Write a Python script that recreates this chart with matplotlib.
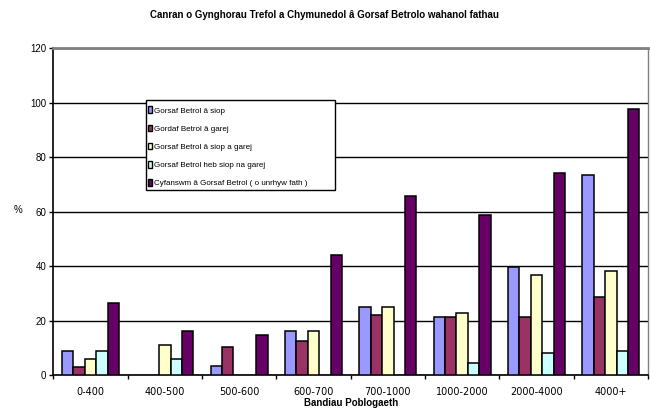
import numpy as np
import matplotlib.pyplot as plt
from matplotlib.patches import Patch, Rectangle

plt.rcParams['font.family'] = ['Liberation Sans', 'DejaVu Sans']

# Population bands and percentages for each type of petrol station
bands = ['0-400', '400-500', '500-600', '600-700', '700-1000',
         '1000-2000', '2000-4000', '4000+']
series_names = ['Gorsaf Betrol â siop',
                'Gordaf Betrol â garej',
                'Gorsaf Betrol â siop a garej',
                'Gorsaf Betrol heb siop na garej',
                'Cyfanswm â Gorsaf Betrol ( o unrhyw fath )']
shop = [9.0, 0, 3.6, 16.3, 25.1, 21.6, 39.8, 73.4]
garage = [3.2, 0, 10.4, 12.8, 22.2, 21.6, 21.6, 28.8]
shop_garage = [6.1, 11.0, 0, 16.3, 25.1, 22.9, 36.8, 38.4]
neither = [9.0, 6.0, 0, 0, 0, 4.6, 8.3, 8.8]
total = [26.6, 16.3, 14.8, 44.3, 65.6, 58.9, 74.1, 97.8]
colors = ['#9999FF', '#993366', '#FFFFCC', '#CCFFFF', '#660066']

values = [shop, garage, shop_garage, neither, total]

fig = plt.figure(figsize=(6.5, 4.09), dpi=100)
ax = fig.add_axes([0.082, 0.082, 0.915, 0.8005])

x = np.arange(len(bands))
width = 1 / 6.5
for i, (vals, col) in enumerate(zip(values, colors)):
    vals = np.array(vals)
    keep = vals > 0  # empty categories draw nothing
    offs = (i - 2) * width
    ax.bar(x[keep] + offs, vals[keep], width, color=col, edgecolor='black',
           linewidth=1.1, zorder=3)

ax.set_xlim(-0.5, len(bands) - 0.5)
ax.set_ylim(0, 120)
ax.set_yticks(np.arange(0, 121, 20))
ax.yaxis.grid(True, color='black', linewidth=1.0, zorder=0)
ax.set_axisbelow(True)

ax.set_xticks(x)
ax.set_xticklabels(bands, fontsize=7, family='DejaVu Sans')
ax.set_xticks(np.arange(-0.5, len(bands), 1), minor=True)
ax.tick_params(axis='x', which='major', length=0, pad=8)
ax.tick_params(axis='x', which='minor', length=3, direction='out', width=1)
ax.tick_params(axis='y', labelsize=7, length=3, width=1, pad=2)

for side in ['top', 'right']:
    ax.spines[side].set_color('#808080')
ax.spines['top'].set_linewidth(2)
ax.spines['right'].set_linewidth(1)
ax.spines['left'].set_linewidth(1.2)
ax.spines['bottom'].set_linewidth(1.2)

ax.set_xlabel('Bandiau Poblogaeth', fontsize=7, fontweight='bold', labelpad=1)
ax.set_ylabel('%', fontsize=7, rotation=0)
ax.yaxis.set_label_coords(-0.06, 0.49)

fig.suptitle('Canran o Gynghorau Trefol a Chymunedol â Gorsaf Betrolo wahanol fathau',
             fontsize=7, fontweight='bold', y=0.975)

# legend box drawn separately so it can be wider than its text, as in Excel
box = Rectangle((0.156, 0.567), 0.318, 0.275, transform=ax.transAxes,
                facecolor='white', edgecolor='black', linewidth=1, zorder=4)
ax.add_patch(box)
handles = [Patch(facecolor=c, edgecolor='black', linewidth=1) for c in colors]
leg = ax.legend(handles, series_names, loc='upper left',
                bbox_to_anchor=(0.149, 0.839), fontsize=5.8, frameon=False,
                handlelength=0.55, handleheight=0.9, handletextpad=0.25,
                labelspacing=1.25, borderpad=0.7, borderaxespad=0)
leg.set_zorder(5)

fig.savefig('out.png', dpi=100)
